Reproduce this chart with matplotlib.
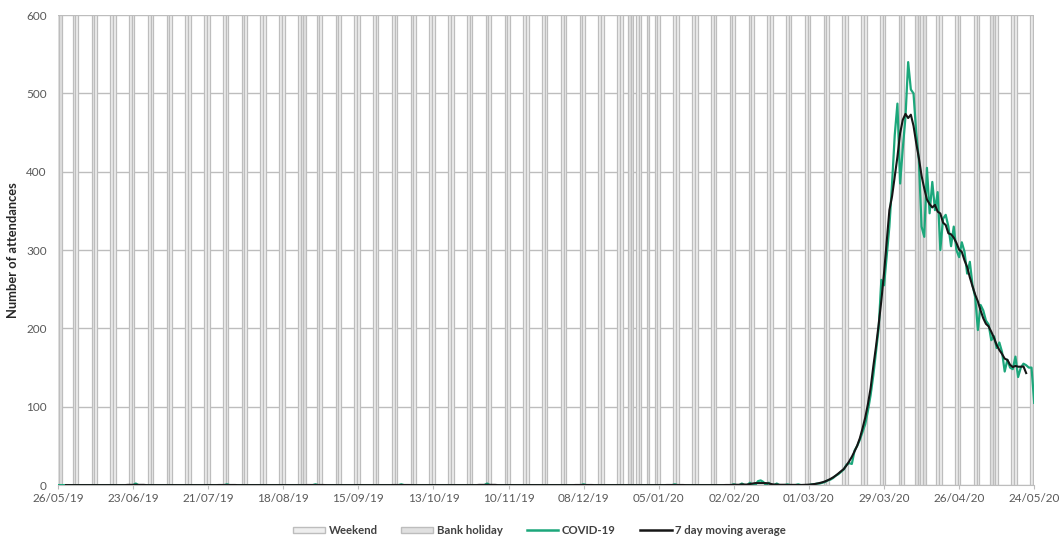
import pandas as pd
import matplotlib
matplotlib.use('Agg')
import matplotlib.pyplot as plt
import matplotlib.dates as mdates
from matplotlib.patches import Patch
from matplotlib.lines import Line2D

plt.rcParams['font.family'] = ['Lato', 'DejaVu Sans']

start = '2019-05-26'
end = '2020-05-24'
bank_holidays = ['2019-05-27', '2019-08-26', '2019-12-25', '2019-12-26',
                 '2020-01-01', '2020-04-10', '2020-04-13', '2020-05-08']

# odd small counts before March 2020 (day offset from 26/05/19 -> attendances)
early_counts = {29: 2, 63: 1, 96: 1, 128: 1, 160: 2, 196: 1, 230: 1, 252: 1,
                255: 2, 258: 3, 261: 5, 262: 6, 263: 4, 265: 3, 268: 2,
                272: 1, 276: 1}

# daily attendances 01/03/20 .. 24/05/20
covid_spring = [0, 1, 1, 2, 2, 3, 4, 6, 7, 9,
                12, 14, 17, 20, 26, 28, 27, 44, 50, 58,
                68, 78, 95, 115, 140, 170, 200, 262, 255, 292,
                330, 385, 447, 487, 385, 430, 470, 540, 505, 500,
                450, 415, 330, 317, 405, 347, 387, 351, 374, 300,
                340, 345, 330, 305, 330, 300, 291, 310, 298, 270,
                285, 255, 240, 198, 230, 223, 210, 205, 185, 190,
                175, 182, 170, 145, 160, 150, 148, 164, 138, 150,
                155, 153, 150, 150, 105]

y_ticks = [0, 100, 200, 300, 400, 500, 600]

dates = pd.date_range(start, end)
counts = [0] * 280
for d, v in early_counts.items():
    counts[d] = v
counts = counts + covid_spring
s = pd.Series(counts, index=dates)
ma = s.rolling(7, center=True).mean()

weekend = pd.date_range('2019-05-25', end)
weekend = weekend[weekend.dayofweek >= 5]
bh = pd.to_datetime(bank_holidays)

fig, ax = plt.subplots(figsize=(10.64, 5.39), dpi=100)
fig.subplots_adjust(left=0.0545, right=0.972, top=0.972, bottom=0.1)

ax.bar(weekend, 600, width=1.0, color='#eeeeee', edgecolor='#bdbdbd', linewidth=0.9, zorder=2)
ax.bar(bh, 600, width=1.0, color='#e0e0e0', edgecolor='#bdbdbd', linewidth=0.9, zorder=2)

ax.plot(s.index, s.values, color='#1ca77b', linewidth=1.6, zorder=3)
ax.plot(ma.index, ma.values, color='#161616', linewidth=1.5, zorder=4)

ax.set_xlim(dates[0], dates[-1])
ax.set_ylim(0, 600)
ax.set_yticks(y_ticks)
ax.set_xticks(dates[::28])
ax.xaxis.set_major_formatter(mdates.DateFormatter('%d/%m/%y'))
ax.grid(axis='y', color='#bdbdbd', linewidth=1.0)
ax.set_axisbelow(True)

for sp in ['top', 'right', 'left']:
    ax.spines[sp].set_visible(False)
ax.spines['bottom'].set_color('#bdbdbd')
ax.tick_params(axis='y', length=0, labelsize=8.5, labelcolor='#595959', pad=8)
ax.tick_params(axis='x', length=3, color='#bdbdbd', labelsize=8.5, labelcolor='#595959', pad=3)

ax.set_ylabel('Number of attendances', fontsize=9.3, fontweight='bold', color='#262626', labelpad=5)

handles = [Patch(facecolor='#eeeeee', edgecolor='#bdbdbd', label='Weekend'),
           Patch(facecolor='#e0e0e0', edgecolor='#bdbdbd', label='Bank holiday'),
           Line2D([], [], color='#1ca77b', linewidth=1.8, label='COVID-19'),
           Line2D([], [], color='#161616', linewidth=1.8, label='7 day moving average')]
leg = fig.legend(handles=handles, loc='center', bbox_to_anchor=(0.507, 0.016), ncol=4,
                 frameon=False, fontsize=8.2, handlelength=2.8, handleheight=0.5,
                 columnspacing=2.1, handletextpad=0.3)
for t in leg.get_texts():
    t.set_fontweight('bold')
    t.set_color('#404040')

plt.savefig('out.png', dpi=100)
